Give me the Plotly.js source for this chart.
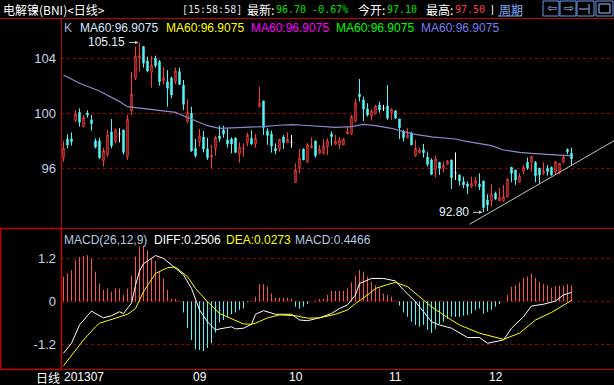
<!DOCTYPE html>
<html><head><meta charset="utf-8">
<script src="https://cdn.plot.ly/plotly-3.0.1.min.js"></script>
<style>html,body{margin:0;padding:0;background:#000;}#chart{width:614px;height:385px;}</style>
</head><body><div id="chart"></div>
<script>
// ---- data ----
const openP  = [96.78,98.13,98.13,99.47,100.07,99.03,100.02,99.52,98.00,97.99,96.56,96.97,98.64,97.94,98.50,98.79,96.85,100.17,102.55,104.05,104.85,103.81,102.98,104.00,103.76,102.38,102.30,102.55,102.30,103.03,102.06,99.39,100.00,97.45,97.94,98.28,97.41,96.80,97.45,98.35,98.79,98.06,98.13,98.21,97.04,97.43,97.87,98.18,97.77,100.48,100.90,98.72,98.50,97.45,97.38,98.28,97.87,97.89,94.96,96.05,97.41,96.44,97.50,97.99,97.09,97.09,97.58,98.50,97.77,97.70,97.70,98.50,98.50,99.44,101.41,100.97,100.32,99.81,99.95,100.61,100.36,100.53,100.05,100.17,99.59,98.67,98.23,98.55,96.92,97.14,97.33,96.82,96.61,95.88,96.44,96.00,96.29,96.61,95.68,95.52,95.03,94.86,94.67,94.86,94.84,95.08,93.70,93.62,94.18,93.65,93.65,93.94,96.07,95.88,94.98,95.76,96.44,96.44,96.44,96.00,95.64,96.00,96.07,95.71,95.71,96.44,97.36,97.10];
const highP  = [97.99,98.47,98.62,100.24,100.36,99.88,100.22,99.88,98.18,98.23,97.50,98.79,99.59,98.91,98.91,98.79,99.88,103.03,104.85,105.15,104.85,104.12,104.19,104.19,103.88,103.37,103.15,102.67,103.32,103.32,102.42,101.02,100.48,98.13,98.86,98.72,98.23,97.70,98.38,99.10,99.10,98.91,98.25,98.21,97.89,97.82,98.59,98.76,98.50,101.94,100.90,98.91,98.74,97.82,98.11,98.42,98.62,98.42,96.36,97.41,97.41,97.82,98.25,97.99,97.70,98.13,98.18,98.67,98.42,98.25,98.18,99.03,99.88,101.04,102.50,101.21,100.73,100.32,100.61,100.85,100.61,102.06,100.36,100.24,99.59,98.79,98.91,98.67,98.06,97.50,97.77,97.21,96.73,96.92,96.44,96.48,96.61,96.61,97.16,95.52,95.39,95.03,95.39,95.39,95.64,95.08,94.11,94.84,94.30,94.59,94.79,95.27,96.07,95.88,95.64,96.24,96.78,96.92,96.53,96.00,96.44,96.24,96.12,96.48,96.36,96.90,97.45,97.50];
const lowP   = [96.48,97.45,97.65,99.35,99.03,98.98,99.68,98.74,97.45,96.68,96.12,96.85,97.45,97.82,97.89,97.00,96.61,99.88,102.42,103.03,103.32,102.98,101.87,103.32,102.01,102.11,100.48,101.09,102.13,102.06,100.24,99.27,97.21,96.78,97.58,97.16,96.61,96.00,96.92,97.94,98.23,97.50,97.09,97.11,96.41,96.85,97.62,97.70,97.50,100.41,98.42,97.70,97.14,97.02,97.21,97.41,97.87,97.50,94.96,95.64,96.61,96.41,97.45,96.78,97.02,97.02,96.97,97.65,97.70,97.41,97.70,98.47,98.42,99.35,100.85,99.44,99.76,99.47,99.95,100.05,100.17,99.52,99.52,99.59,98.13,97.94,98.18,97.70,96.85,97.09,96.78,96.12,95.52,95.32,95.52,95.71,96.24,94.50,95.15,94.74,94.55,94.11,94.59,94.67,94.42,92.80,92.90,93.21,93.70,93.58,93.58,93.87,94.98,94.79,94.98,95.56,95.88,95.76,94.98,94.91,95.52,95.47,95.47,95.56,95.56,96.36,97.02,96.20];
const closeP = [97.45,97.70,97.94,99.95,99.35,99.71,99.88,99.25,97.55,96.78,97.31,98.42,97.65,98.79,98.50,97.16,99.59,101.38,104.15,104.19,103.64,103.08,103.52,103.47,102.30,102.59,101.82,101.33,103.08,102.11,100.65,100.07,97.26,96.92,98.35,97.41,96.78,96.97,98.25,98.16,98.50,97.77,97.77,97.16,97.55,97.47,98.42,97.77,98.18,100.73,98.96,98.38,97.62,97.26,98.11,97.87,98.11,97.89,95.88,96.73,96.61,97.70,97.62,96.92,97.38,97.62,97.99,98.30,97.99,98.04,98.13,98.67,99.76,100.73,101.21,100.32,99.88,100.17,100.53,100.24,100.36,99.64,100.29,99.64,98.96,98.23,98.42,97.70,97.45,97.33,97.14,96.29,95.56,96.68,96.00,96.24,96.53,95.32,95.68,95.08,94.79,94.67,94.91,95.10,94.67,93.14,93.33,94.11,93.77,93.87,93.94,95.22,95.64,95.15,95.44,96.07,96.00,96.85,95.47,95.52,95.81,95.76,95.52,96.48,96.36,96.82,97.21,96.70];

const maIdx = [0,4,9,14,16,20,24,28,31,34,36,39,45,50,54,57,60,63,68,72,75,78,82,85,88,92,96,98,100,104,107,110,114,117,120,124,127];
const maVal = [102.79,102.18,101.62,100.85,100.48,100.36,100.22,100.07,99.70,99.35,99.10,98.91,98.96,99.03,99.13,99.18,99.13,99.08,98.98,99.03,99.20,99.10,98.91,98.67,98.47,98.28,98.18,98.13,97.99,97.82,97.65,97.33,97.16,97.09,97.04,96.97,96.91];

const trendIdx = [101.5, 137.75];
const trendVal = [91.93, 98.02];

const macdHist = [0.69,0.78,0.875,1.15,1.24,1.27,1.29,1.20,0.83,0.50,0.32,0.36,0.27,0.36,0.36,0.18,0.36,0.72,1.25,1.53,1.55,1.43,1.20,1.13,0.83,0.64,0.32,0.07,0.07,0.02,-0.31,-0.75,-1.08,-1.34,-1.36,-1.39,-1.30,-1.17,-0.87,-0.59,-0.52,-0.43,-0.36,-0.31,-0.24,-0.20,-0.02,0.02,0.13,0.48,0.48,0.41,0.22,0.10,0.10,0.10,0.10,0.07,-0.15,-0.20,-0.15,-0.07,0.01,0.02,0.07,0.07,0.18,0.29,0.29,0.29,0.29,0.36,0.53,0.72,0.88,0.83,0.69,0.55,0.45,0.36,0.22,0.18,0.13,0.02,-0.12,-0.31,-0.43,-0.57,-0.66,-0.71,-0.66,-0.80,-0.88,-0.77,-0.64,-0.57,-0.49,-0.43,-0.43,-0.43,-0.40,-0.38,-0.34,-0.24,-0.20,-0.34,-0.29,-0.24,-0.15,-0.08,0.01,0.18,0.41,0.45,0.53,0.66,0.69,0.78,0.66,0.55,0.48,0.45,0.38,0.43,0.44,0.44,0.48,0.4466];

const diffIdx = [0,2,4,7,8,10,12,14,15,17,18,19,20,23,25,27,28,30,32,34,36,38,39,42,43,45,47,48,50,53,57,59,61,64,67,69,71,73,74,77,80,83,85,88,90,92,94,97,101,104,106,110,112,115,117,120,123,125,127];
const diffVal = [-1.45,-1.17,-0.66,-0.27,-0.34,-0.46,-0.40,-0.29,-0.34,-0.05,0.45,0.85,1.05,1.28,1.20,1.01,0.94,0.74,0.36,-0.24,-0.57,-0.80,-0.77,-0.71,-0.77,-0.75,-0.64,-0.36,-0.26,-0.36,-0.36,-0.52,-0.54,-0.46,-0.34,-0.20,-0.10,0.18,0.50,0.64,0.64,0.57,0.32,-0.01,-0.29,-0.57,-0.66,-0.75,-1.01,-1.01,-1.17,-1.08,-0.75,-0.43,-0.13,-0.08,0.01,0.18,0.2506];
const deaIdx = [0,2,5,8,9,13,16,18,20,23,26,28,31,33,36,39,43,45,47,48,51,54,58,61,64,68,71,73,76,78,81,83,86,89,92,95,99,104,110,114,118,122,127];
const deaVal = [-1.80,-1.50,-1.08,-0.71,-0.61,-0.47,-0.36,-0.20,0.27,0.78,0.94,0.96,0.69,0.36,-0.01,-0.34,-0.52,-0.63,-0.64,-0.61,-0.46,-0.38,-0.40,-0.47,-0.46,-0.36,-0.24,-0.06,0.18,0.36,0.47,0.53,0.41,0.13,-0.15,-0.38,-0.66,-0.89,-1.06,-0.89,-0.52,-0.31,0.0273];

const monthIdx = [0, 34, 58, 83, 108];
const monthLbl = ['201307', '09', '10', '11', '12'];
const priceTicks = [96, 100, 104];
const macdTicks = [-1.2, 0, 1.2];

// ---- geometry helpers (pixel -> paper) ----
const ML = 61, MT = 18, MB = 16, W = 614, H = 385;
const PW = W - ML, PH = H - MT - MB;
const px = p => (p - ML) / PW;
const py = p => (H - MB - p) / PH;

const idx = openP.map((_, i) => i);
const normal = idx.filter(i => openP[i] !== closeP[i]);
const doji = idx.filter(i => openP[i] === closeP[i]);
const pick = (arr, sel) => sel.map(i => arr[i]);

const RED = '#ff3c3c', CYAN = '#52f6f6', GRID = '#a00000', FRAME = '#c40000';

// histogram as thin vertical stems built from macdHist
function stems(sign) {
  const xs = [], ys = [];
  idx.forEach(i => {
    const v = macdHist[i];
    if ((sign > 0 && v > 0) || (sign < 0 && v < 0)) { xs.push(i, i, null); ys.push(0, v, null); }
  });
  return { xs, ys };
}
const posS = stems(1), negS = stems(-1);

const traces = [
  { type: 'candlestick', x: normal, open: pick(openP, normal), high: pick(highP, normal),
    low: pick(lowP, normal), close: pick(closeP, normal), xaxis: 'x', yaxis: 'y',
    increasing: { line: { color: RED, width: 1 }, fillcolor: '#000000' },
    decreasing: { line: { color: CYAN, width: 1 }, fillcolor: CYAN },
    whiskerwidth: 0, hoverinfo: 'skip' },
  { type: 'candlestick', x: doji, open: pick(openP, doji), high: pick(highP, doji),
    low: pick(lowP, doji), close: pick(closeP, doji), xaxis: 'x', yaxis: 'y',
    increasing: { line: { color: '#ffffff', width: 1 }, fillcolor: '#ffffff' },
    decreasing: { line: { color: '#ffffff', width: 1 }, fillcolor: '#ffffff' },
    whiskerwidth: 0, hoverinfo: 'skip' },
  { type: 'scatter', mode: 'lines', x: maIdx, y: maVal, xaxis: 'x', yaxis: 'y',
    line: { color: '#8a8ad0', width: 1.2 }, hoverinfo: 'skip' },
  { type: 'scatter', mode: 'lines', x: trendIdx, y: trendVal, xaxis: 'x', yaxis: 'y',
    line: { color: '#c4c4c4', width: 1 }, hoverinfo: 'skip' },
  { type: 'scatter', mode: 'lines', x: posS.xs, y: posS.ys, xaxis: 'x', yaxis: 'y2', connectgaps: false,
    line: { color: '#ff5252', width: 1 }, hoverinfo: 'skip' },
  { type: 'scatter', mode: 'lines', x: negS.xs, y: negS.ys, xaxis: 'x', yaxis: 'y2', connectgaps: false,
    line: { color: CYAN, width: 1 }, hoverinfo: 'skip' },
  { type: 'scatter', mode: 'lines', x: diffIdx, y: diffVal, xaxis: 'x', yaxis: 'y2',
    line: { color: '#ffffff', width: 1 }, hoverinfo: 'skip' },
  { type: 'scatter', mode: 'lines', x: deaIdx, y: deaVal, xaxis: 'x', yaxis: 'y2',
    line: { color: '#ffff00', width: 1 }, hoverinfo: 'skip' }
];

const FONT = 'Liberation Sans, Arial, sans-serif';
const CJK = 'Noto Sans CJK SC, sans-serif';
const MONO = 'DejaVu Sans Mono, monospace';
const ann = [];
function txt(x, y, text, color, opts = {}) {
  ann.push(Object.assign({ xref: 'paper', yref: 'paper', x: px(x), y: py(y), text: text,
    showarrow: false, xanchor: 'left', yanchor: 'middle',
    font: { family: FONT, size: 12, color: color } }, opts));
}
const cjk = c => ({ font: { family: CJK, size: 12, color: c } });
const mono = c => ({ font: { family: MONO, size: 10, color: c } });
// header
txt(1, 9, '电解镍(BNI)<日线>', '#ffffff', cjk('#ffffff'));
txt(180, 9, '[15:58:58]', '#e0e0e0', mono('#e0e0e0'));
txt(245, 9, '最新:', '#ffffff', cjk('#ffffff'));
txt(274, 9, '96.70 -0.67%', '#00e000', mono('#00e000'));
txt(356, 9, '今开:', '#ffffff', cjk('#ffffff'));
txt(385, 9, '97.10', '#00e000', mono('#00e000'));
txt(424, 9, '最高:', '#ffffff', cjk('#ffffff'));
txt(453, 9, '97.50', '#ff4040', mono('#ff4040'));
txt(489, 9, '|', '#ffffff', { font: { family: FONT, size: 11, color: '#ffffff' } });
txt(497, 9, '周期', '#80b0ff', cjk('#80b0ff'));
txt(545, 8, '⇦', '#a0c4ff', { font: { family: 'DejaVu Sans', size: 12, color: '#a0c4ff' } });
txt(562, 8, '⇨', '#a0c4ff', { font: { family: 'DejaVu Sans', size: 12, color: '#a0c4ff' } });
// price legend
txt(62, 28, 'K', '#a8b4d0');
txt(78, 28, 'MA60:96.9075', '#d8e8ff');
txt(164, 28, 'MA60:96.9075', '#ffff00');
txt(249, 28, 'MA60:96.9075', '#ff00ff');
txt(334, 28, 'MA60:96.9075', '#00ff00');
txt(419, 28, 'MA60:96.9075', '#7c7cf0');
// macd legend
txt(62, 240, 'MACD(26,12,9)', '#b8c8e0');
txt(152, 240, 'DIFF:0.2506', '#ffffff');
txt(224, 240, 'DEA:0.0273', '#ffff00');
txt(293, 240, 'MACD:0.4466', '#b8c8e0');
// bottom labels
txt(34, 377, '日线', '#ffffff', cjk('#ffffff'));
monthIdx.forEach((m, k) => {
  ann.push({ xref: 'x', yref: 'paper', x: k === 0 ? m - 0.5 : m, y: py(377), text: monthLbl[k],
    showarrow: false, xanchor: k === 0 ? 'left' : 'center', yanchor: 'middle',
    font: { family: FONT, size: 12, color: '#ffffff' } });
});
// high / low markers
ann.push({ xref: 'x', yref: 'y', x: 19, y: 105.15, text: '', showarrow: true, ax: -12, ay: 0,
  arrowhead: 2, arrowsize: 0.7, arrowwidth: 1, arrowcolor: '#c8c8c8', standoff: 1 });
ann.push({ xref: 'x', yref: 'y', x: 19, y: 105.15, text: '105.15', showarrow: false, xanchor: 'right',
  xshift: -13, yanchor: 'middle', font: { family: FONT, size: 12, color: '#e8eeff' } });
ann.push({ xref: 'x', yref: 'y', x: 105, y: 92.80, text: '', showarrow: true, ax: -12, ay: 0,
  arrowhead: 2, arrowsize: 0.7, arrowwidth: 1, arrowcolor: '#c8c8c8', standoff: 1 });
ann.push({ xref: 'x', yref: 'y', x: 105, y: 92.80, text: '92.80', showarrow: false, xanchor: 'right',
  xshift: -13, yanchor: 'middle', font: { family: FONT, size: 12, color: '#e8eeff' } });

const hline = (yPix, x0 = 0, x1 = W, c = FRAME) => ({ type: 'line', xref: 'paper', yref: 'paper',
  x0: px(x0), x1: px(x1), y0: py(yPix), y1: py(yPix), line: { color: c, width: 1 } });
const shapes = [
  hline(18.5), hline(228.5), hline(369.5),
  { type: 'line', xref: 'paper', yref: 'paper', x0: px(61.5), x1: px(61.5), y0: py(18), y1: py(369), line: { color: FRAME, width: 1 } },
  { type: 'rect', xref: 'paper', yref: 'paper', x0: px(0.5), x1: px(61.5), y0: py(228.5), y1: py(369.5), line: { color: FRAME, width: 1.5 } },
  // toolbar buttons
  ...[[543, 559], [560, 576], [577, 594], [596, 613]].map(b => ({ type: 'rect', xref: 'paper', yref: 'paper',
    x0: px(b[0]), x1: px(b[1]), y0: py(1), y1: py(16), line: { color: '#6a9ae8', width: 1 } })),
  { type: 'line', xref: 'paper', yref: 'paper', x0: px(579), x1: px(588), y0: py(9), y1: py(9), line: { color: '#a0c4ff', width: 1 } },
  { type: 'line', xref: 'paper', yref: 'paper', x0: px(589), x1: px(589), y0: py(4), y1: py(14), line: { color: '#a0c4ff', width: 1 } },
  { type: 'rect', xref: 'paper', yref: 'paper', x0: px(599), x1: px(610), y0: py(4), y1: py(13), line: { color: '#a0c4ff', width: 1 } },
  // underline of 周期
  { type: 'line', xref: 'paper', yref: 'paper', x0: px(498), x1: px(522), y0: py(16), y1: py(16), line: { color: '#80b0ff', width: 1 } }
];

const split = 141 / PH;
const layout = {
  width: W, height: H, margin: { l: ML, r: 0, t: MT, b: MB, pad: 0 },
  paper_bgcolor: '#000000', plot_bgcolor: '#000000', showlegend: false, hovermode: false,
  boxgap: 0.5,
  xaxis: { range: [-0.625, 137.625], anchor: 'y2', showgrid: false, zeroline: false, showticklabels: false,
    ticks: '', showline: false, rangeslider: { visible: false }, fixedrange: true },
  yaxis: { domain: [split, 1], anchor: 'x', range: [91.66, 106.93], tickvals: priceTicks,
    ticktext: priceTicks.map(String), showgrid: true, gridcolor: GRID, griddash: 'dot', gridwidth: 1,
    zeroline: false, showline: false, ticks: '', ticklabelstandoff: 4,
    tickfont: { family: FONT, size: 13, color: '#c8d2ea' } },
  yaxis2: { domain: [0, split], anchor: 'x', range: [-1.89, 2.05], tickvals: macdTicks,
    ticktext: ['-1.2', '0', '1.2'], showgrid: true, gridcolor: GRID, griddash: 'dot', gridwidth: 1,
    zeroline: false, showline: false, ticks: '', ticklabelstandoff: 4,
    tickfont: { family: FONT, size: 13, color: '#c8d2ea' } },
  annotations: ann, shapes: shapes
};
Plotly.newPlot('chart', traces, layout, { staticPlot: true, displayModeBar: false });
</script></body></html>
